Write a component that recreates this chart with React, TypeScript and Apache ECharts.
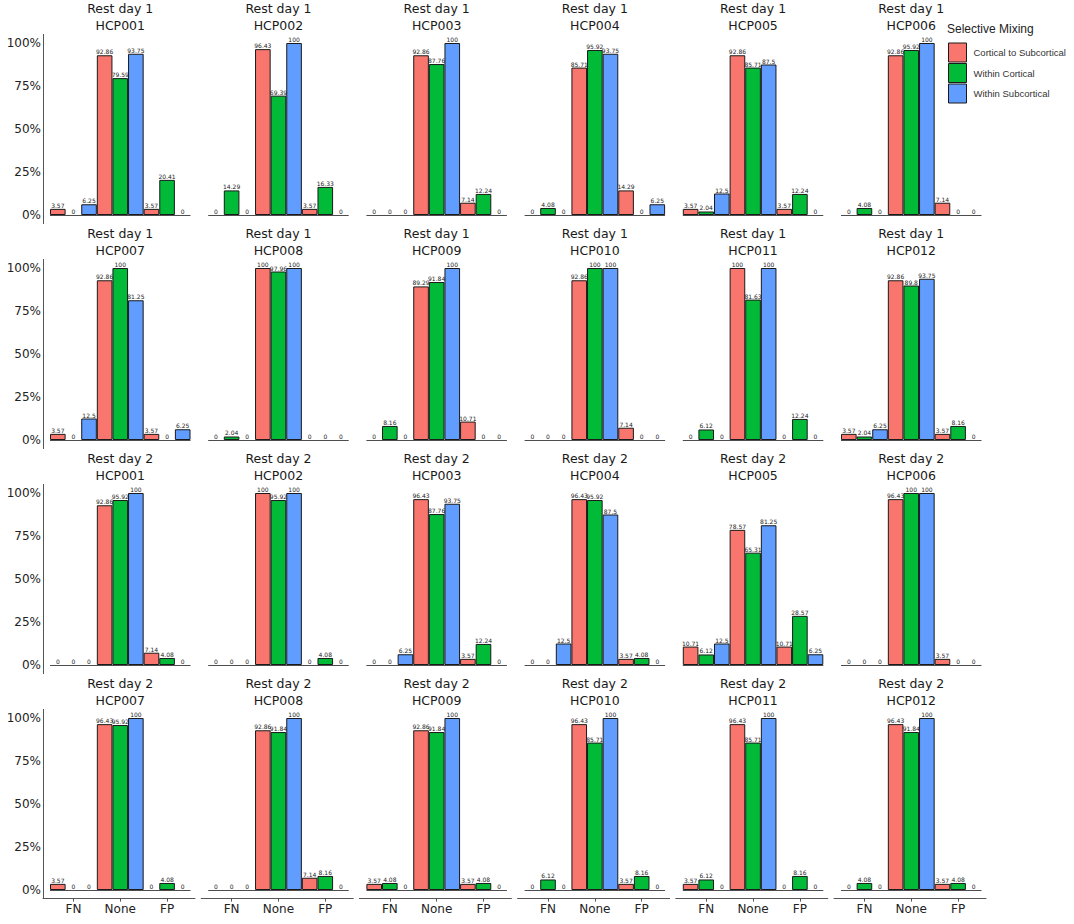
import React, { useEffect, useRef } from "react";
import * as echarts from "echarts";

const categories = ["FN", "None", "FP"];
const seriesNames = ["Cortical to Subcortical", "Within Cortical", "Within Subcortical"];
const seriesColors = ["#F8766D", "#00BA38", "#619CFF"];
const sessionLabels = ["Rest day 1", "Rest day 2"];
const subjectIds = [
  "HCP001", "HCP002", "HCP003", "HCP004", "HCP005", "HCP006",
  "HCP007", "HCP008", "HCP009", "HCP010", "HCP011", "HCP012",
];
const yTickValues = [0, 25, 50, 75, 100];
const legendTitle = "Selective Mixing";

// values per panel: [FN, None, FP]
const corticalToSubcortical = [
  [3.57, 92.86, 3.57], [0, 96.43, 3.57], [0, 92.86, 7.14], [0, 85.71, 14.29], [3.57, 92.86, 3.57], [0, 92.86, 7.14],
  [3.57, 92.86, 3.57], [0, 100, 0], [0, 89.29, 10.71], [0, 92.86, 7.14], [0, 100, 0], [3.57, 92.86, 3.57],
  [0, 92.86, 7.14], [0, 100, 0], [0, 96.43, 3.57], [0, 96.43, 3.57], [10.71, 78.57, 10.71], [0, 96.43, 3.57],
  [3.57, 96.43, 0], [0, 92.86, 7.14], [3.57, 92.86, 3.57], [0, 96.43, 3.57], [3.57, 96.43, 0], [0, 96.43, 3.57],
];
const withinCortical = [
  [0, 79.59, 20.41], [14.29, 69.39, 16.33], [0, 87.76, 12.24], [4.08, 95.92, 0], [2.04, 85.71, 12.24], [4.08, 95.92, 0],
  [0, 100, 0], [2.04, 97.96, 0], [8.16, 91.84, 0], [0, 100, 0], [6.12, 81.63, 12.24], [2.04, 89.8, 8.16],
  [0, 95.92, 4.08], [0, 95.92, 4.08], [0, 87.76, 12.24], [0, 95.92, 4.08], [6.12, 65.31, 28.57], [0, 100, 0],
  [0, 95.92, 4.08], [0, 91.84, 8.16], [4.08, 91.84, 4.08], [6.12, 85.71, 8.16], [6.12, 85.71, 8.16], [4.08, 91.84, 4.08],
];
const withinSubcortical = [
  [6.25, 93.75, 0], [0, 100, 0], [0, 100, 0], [0, 93.75, 6.25], [12.5, 87.5, 0], [0, 100, 0],
  [12.5, 81.25, 6.25], [0, 100, 0], [0, 100, 0], [0, 100, 0], [0, 100, 0], [6.25, 93.75, 0],
  [0, 100, 0], [0, 100, 0], [6.25, 93.75, 0], [12.5, 87.5, 0], [12.5, 81.25, 6.25], [0, 100, 0],
  [0, 100, 0], [0, 100, 0], [0, 100, 0], [0, 100, 0], [0, 100, 0], [0, 100, 0],
];

const seriesValues = [corticalToSubcortical, withinCortical, withinSubcortical];

// layout
const COLS = 6;
const ROWS = 4;
const COL_PITCH = 158.2;
const ROW_PITCH = 225;
const OUTER_LEFT0 = 43;
const OUTER_W = 152;
const INNER_OFF = 7;
const INNER_W = 140.5;
const TOP0 = 34.4; // y of 105
const PANEL_H = 189.2; // -5 .. 105
const Y100_0 = 43;

const FONT = "DejaVu Sans";
const AXIS_COLOR = "#555555";

function buildOption() {
  const grid: any[] = [];
  const xAxis: any[] = [];
  const yAxis: any[] = [];
  const series: any[] = [];
  const graphic: any[] = [];
  const nPanels = COLS * ROWS;

  for (let p = 0; p < nPanels; p++) {
    const r = Math.floor(p / COLS);
    const c = p % COLS;
    const outerLeft = OUTER_LEFT0 + COL_PITCH * c;
    const top = TOP0 + ROW_PITCH * r;
    grid.push({ left: outerLeft + INNER_OFF, top, width: INNER_W, height: PANEL_H });
    xAxis.push({
      type: "category",
      gridIndex: p,
      data: categories,
      boundaryGap: true,
      axisLine: { show: false, onZero: false },
      axisTick: { show: r === ROWS - 1, length: 3, alignWithLabel: true, lineStyle: { color: AXIS_COLOR } },
      axisLabel: { show: r === ROWS - 1, fontSize: 12, color: "#222", fontFamily: FONT, margin: 4 },
      splitLine: { show: false },
    });
    yAxis.push({ type: "value", gridIndex: p, min: -5, max: 105, show: false });

    for (let s = 0; s < 3; s++) {
      const vals = seriesValues[s][p];
      series.push({
        type: "bar",
        name: seriesNames[s],
        xAxisIndex: p,
        yAxisIndex: p,
        barGap: "0%",
        barCategoryGap: "0%",
        data: vals.map((v) => (v === 0 ? { value: 0, itemStyle: { borderWidth: 0 } } : v)),
        itemStyle: { color: seriesColors[s], borderColor: "#1a1a1a", borderWidth: 1 },
        label: {
          show: true,
          position: "top",
          distance: 0.5,
          fontSize: 6,
          color: "#222",
          fontFamily: FONT,
          formatter: (d: any) => String(d.value),
        },
        markLine:
          s === 0
            ? {
                silent: true,
                symbol: ["none", "none"],
                label: { show: false },
                lineStyle: { color: "#4d4d4d", width: 1, type: "solid" },
                emphasis: { disabled: true },
                data: [{ yAxis: 0 }],
              }
            : undefined,
      });
    }

    const cx = outerLeft + INNER_OFF + INNER_W / 2;
    const y100 = Y100_0 + ROW_PITCH * r;
    graphic.push({
      type: "text",
      x: cx,
      y: y100 - 35,
      style: {
        text: sessionLabels[Math.floor(p / 12)],
        fill: "#1a1a1a",
        fontSize: 12.5,
        fontFamily: FONT,
        align: "center",
        verticalAlign: "middle",
      },
    });
    graphic.push({
      type: "text",
      x: cx,
      y: y100 - 18,
      style: {
        text: subjectIds[p % 12],
        fill: "#1a1a1a",
        fontSize: 12.5,
        fontFamily: FONT,
        align: "center",
        verticalAlign: "middle",
      },
    });
  }

  // outer grids for the axis lines (left column y axis, bottom row x axis)
  for (let p = 0; p < nPanels; p++) {
    const r = Math.floor(p / COLS);
    const c = p % COLS;
    if (!(c === 0 || r === ROWS - 1)) continue;
    const gi = grid.length;
    grid.push({
      left: OUTER_LEFT0 + COL_PITCH * c,
      top: TOP0 + ROW_PITCH * r,
      width: OUTER_W,
      height: PANEL_H,
    });
    xAxis.push({
      type: "category",
      gridIndex: gi,
      data: categories,
      axisLine: { show: r === ROWS - 1, onZero: false, lineStyle: { color: AXIS_COLOR, width: 1 } },
      axisTick: { show: false },
      axisLabel: { show: false },
      splitLine: { show: false },
    });
    yAxis.push({
      type: "value",
      gridIndex: gi,
      min: -5,
      max: 105,
      axisLine: { show: c === 0, onZero: false, lineStyle: { color: AXIS_COLOR, width: 1 } },
      axisTick: { show: false },
      axisLabel: {
        show: c === 0,
        customValues: yTickValues,
        formatter: (v: number) => v + "%",
        fontSize: 12,
        color: "#222",
        fontFamily: FONT,
        margin: 2,
      },
      splitLine: { show: false },
    });
  }

  graphic.push({
    type: "text",
    x: 947,
    y: 29,
    style: {
      text: legendTitle,
      fill: "#222",
      fontSize: 12,
      fontFamily: "Liberation Sans",
      align: "left",
      verticalAlign: "middle",
    },
  });

  return {
    animation: false,
    backgroundColor: "#ffffff",
    grid,
    xAxis,
    yAxis,
    series,
    graphic,
    legend: {
      data: seriesNames,
      orient: "vertical",
      left: 948,
      top: 42.5,
      padding: 0,
      itemWidth: 18,
      itemHeight: 19,
      itemGap: 0.5,
      icon: "rect",
      selectedMode: false,
      itemStyle: { borderColor: "#1a1a1a", borderWidth: 1 },
      textStyle: { fontSize: 9.5, color: "#333", fontFamily: "Liberation Sans", padding: [0, 0, 0, 2] },
    },
  };
}

export default function App() {
  const ref = useRef<HTMLDivElement>(null);
  useEffect(() => {
    if (!ref.current) return;
    const chart = echarts.init(ref.current, undefined, { renderer: "svg" });
    chart.setOption(buildOption() as any);
    return () => chart.dispose();
  }, []);
  return (
    <div
      ref={ref}
      style={{ position: "absolute", left: 0, top: 0, width: 1074, height: 924, background: "#fff" }}
    />
  );
}
